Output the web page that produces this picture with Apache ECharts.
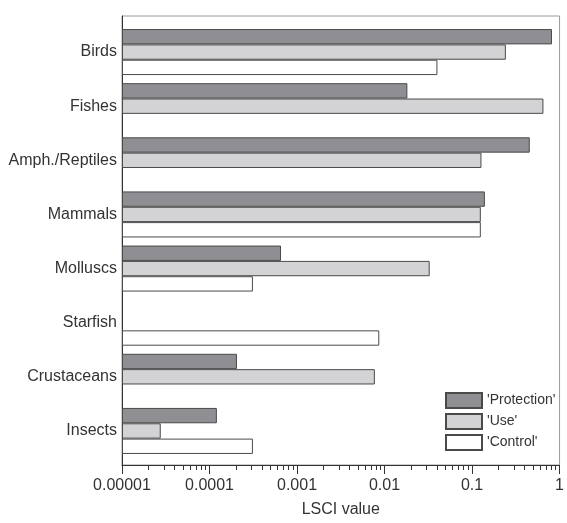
<!DOCTYPE html>
<html>
<head>
<meta charset="utf-8">
<script src="https://cdn.jsdelivr.net/npm/echarts@6/dist/echarts.min.js"></script>
<style>html,body{margin:0;padding:0;background:#fff;}#c{width:567px;height:523px;}</style>
</head>
<body>
<div id="c"></div>
<script>
const categories = ['Birds', 'Fishes', 'Amph./Reptiles', 'Mammals', 'Molluscs', 'Starfish', 'Crustaceans', 'Insects'];
const seriesNames = ["'Protection'", "'Use'", "'Control'"];
const protection = [0.75, 0.0172, 0.42, 0.13, 0.000635, null, 0.000201, 0.000119];
const use = [0.225, 0.6, 0.119, 0.117, 0.0308, null, 0.00736, 0.0000275];
const control = [0.0377, null, null, 0.117, 0.000305, 0.00826, null, 0.000305];
const tickLabels = ['0.00001', '0.0001', '0.001', '0.01', '0.1', '1'];
const xMin = 0.00001, xMax = 1;

const FONT = 'Liberation Sans, Arial, sans-serif';
const colors = ['#8f8f93', '#d3d3d5', '#ffffff'];
const chart = echarts.init(document.getElementById('c'), null, {renderer: 'canvas'});

function barSeries(name, data, color) {
  return {
    name: name, type: 'bar', xAxisIndex: 0, yAxisIndex: 0,
    data: data, barGap: '0%', barCategoryGap: '15%',
    itemStyle: {color: color, borderColor: '#4a4a4a', borderWidth: 1},
    emphasis: {disabled: true}, animation: false
  };
}

chart.setOption({
  animation: false,
  textStyle: {fontFamily: FONT},
  grid: [
    {left: 122, right: 4, top: 25, bottom: 65},
    {left: 122, right: 4, top: 16, bottom: 53, show: true, borderColor: '#9a9a9a', borderWidth: 1, backgroundColor: 'transparent'}
  ],
  legend: {
    orient: 'vertical', left: 440, top: 387, itemWidth: 36, itemHeight: 15, itemGap: 4,
    data: seriesNames, icon: 'rect',
    textStyle: {fontSize: 14, color: '#333', fontFamily: FONT}
  },
  xAxis: [
    {type: 'log', gridIndex: 0, min: xMin, max: xMax, startValue: xMin, show: false},
    {type: 'log', gridIndex: 1, min: xMin, max: xMax,
     name: 'LSCI value', nameLocation: 'middle', nameGap: 37,
     nameTextStyle: {fontSize: 16, color: '#333', fontFamily: FONT},
     axisLine: {show: true, lineStyle: {color: '#333', width: 1}},
     axisTick: {show: true, length: 9, inside: false, lineStyle: {color: '#333'}},
     minorTick: {show: true, splitNumber: 9, length: 5, lineStyle: {color: '#333'}},
     splitLine: {show: false},
     axisLabel: {margin: 13, fontSize: 16, color: '#333', fontFamily: FONT,
       formatter: function (v, i) { return tickLabels[i]; }}
    }
  ],
  yAxis: [
    {type: 'category', gridIndex: 0, data: categories, inverse: true,
     axisLine: {show: false}, axisTick: {show: false}, splitLine: {show: false},
     axisLabel: {margin: 5, fontSize: 16, color: '#333', fontFamily: FONT}},
    {type: 'value', gridIndex: 1, min: 0, max: 1,
     axisLine: {show: true, lineStyle: {color: '#333', width: 1}},
     axisTick: {show: false}, axisLabel: {show: false}, splitLine: {show: false}}
  ],
  series: [
    barSeries(seriesNames[0], protection, colors[0]),
    barSeries(seriesNames[1], use, colors[1]),
    barSeries(seriesNames[2], control, colors[2])
  ]
});
</script>
</body>
</html>
